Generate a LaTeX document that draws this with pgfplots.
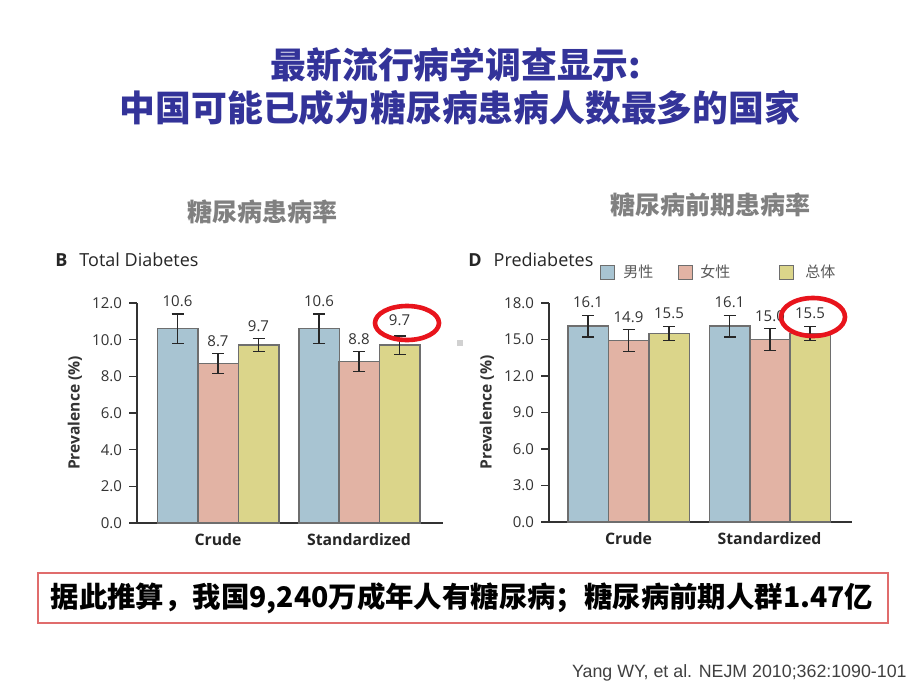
\documentclass[border=0pt]{standalone}
\usepackage{pgfplots}
\pgfplotsset{compat=1.18}
\usepackage{fontspec}
\setmainfont{Open Sans}
\newfontfamily\cjk{Noto Sans CJK SC}
\newfontfamily\citefont{Liberation Sans}
\definecolor{titleblue}{HTML}{333399}
\definecolor{cblue}{HTML}{A8C4D2}
\definecolor{cpink}{HTML}{E2B3A4}
\definecolor{cyel}{HTML}{DBD58A}
\definecolor{edge}{HTML}{6E6E6E}
\definecolor{boxred}{HTML}{E06C6C}
\definecolor{ellred}{HTML}{E8141C}
\definecolor{tickgray}{HTML}{333333}
\pgfplotsset{
  panel/.style={
    scale only axis, clip=false,
    axis lines=left, axis line style={-, draw=tickgray, line width=0.6pt},
    ymin=0, tick align=outside, major tick length=4pt,
    ytick style={draw=tickgray, line width=0.6pt},
    xtick style={draw=none},
    /pgf/number format/fixed, /pgf/number format/fixed zerofill,
    /pgf/number format/precision=1, /pgf/number format/assume math mode=true,
    yticklabel style={font=\fontsize{7.5}{9}\selectfont, text=tickgray},
    xticklabel style={font=\bfseries\fontsize{7.9}{10}\selectfont, text=black!85, yshift=2.5pt},
    ylabel style={at={(axis description cs:0,0.5)}, anchor=center, rotate=0, yshift=31pt,
      font=\bfseries\fontsize{7.8}{10}\selectfont, text=tickgray},
    ylabel={Prevalence (\%)},
  },
  bars/.style={ybar, bar width=40.5, bar shift=0pt, fill=#1, draw=edge, line width=0.75pt,
    error bars/.cd, y dir=both, y explicit,
    error bar style={line width=0.6pt, draw=black!85},
    error mark options={rotate=90, mark size=3pt, line width=0.6pt, draw=black!85}},
  vals/.style={draw=none, mark=none, nodes near coords, point meta=explicit symbolic,
    nodes near coords style={font=\fontsize{7.5}{9}\selectfont, text=tickgray, anchor=south}},
}
\begin{document}
\begin{tikzpicture}
\begin{scope}[x=0.5pt,y=-0.5pt]
\fill[white] (0,0) rectangle (920,690);
\node[text=titleblue, font=\cjk\bfseries\fontsize{17.9}{20}\selectfont] at (456,65) {最新流行病学调查显示:};
\node[text=titleblue, font=\cjk\bfseries\fontsize{17.9}{20}\selectfont] at (460,108) {中国可能已成为糖尿病患病人数最多的国家};
\node[text=black!50, font=\cjk\bfseries\fontsize{12.5}{14}\selectfont] at (262,212) {糖尿病患病率};
\node[text=black!50, font=\cjk\bfseries\fontsize{12.5}{14}\selectfont] at (710,205) {糖尿病前期患病率};
\node[anchor=west, inner sep=0, font=\fontsize{9}{10}\selectfont, text=black!85] at (55,260) {\textbf{B}\hspace{6pt}Total Diabetes};
\node[anchor=west, inner sep=0, font=\fontsize{9}{10}\selectfont, text=black!85] at (468,260) {\textbf{D}\hspace{6pt}Prediabetes};
% legend
\draw[edge, line width=0.5pt, fill=cblue] (600,265) rectangle (614,279);
\node[anchor=west, inner sep=0, font=\cjk\fontsize{7.5}{8}\selectfont, text=black!65] at (623,272) {男性};
\draw[edge, line width=0.5pt, fill=cpink] (678,265) rectangle (692,279);
\node[anchor=west, inner sep=0, font=\cjk\fontsize{7.5}{8}\selectfont, text=black!65] at (700,272) {女性};
\draw[edge, line width=0.5pt, fill=cyel] (779,265) rectangle (793,279);
\node[anchor=west, inner sep=0, font=\cjk\fontsize{7.5}{8}\selectfont, text=black!65] at (805,272) {总体};
\fill[black!18] (457,340) rectangle (463,346);
% bottom box
\draw[boxred, line width=1pt] (38,573) rectangle (888,623);
\node[font=\cjk\bfseries\fontsize{14.2}{16}\selectfont] at (462,598) {据此推算，我国9,240万成年人有糖尿病；糖尿病前期人群1.47亿};
\node[anchor=east, inner sep=0, font=\citefont\fontsize{8.9}{10}\selectfont, text=black!75] at (907,673) {Yang WY, et al. NEJM 2010;362:1090-101};
\end{scope}

\begin{axis}[panel, at={(68.5pt,-261.5pt)}, anchor=south west,
  width=153pt, height=110pt, xmin=137, xmax=443, ymax=12,
  ytick={0,2,...,12}, xtick={218,359}, xticklabels={Crude,Standardized}]
\addplot[bars=cblue] coordinates {(177.5,10.6) +- (0,0.8) (319,10.6) +- (0,0.8)};
\addplot[bars=cpink] coordinates {(218,8.7) +- (0,0.55) (359,8.8) +- (0,0.55)};
\addplot[bars=cyel] coordinates {(258.5,9.7) +- (0,0.35) (399.5,9.7) +- (0,0.5)};
\addplot[vals] coordinates {(177.5,11.4)[10.6] (319,11.4)[10.6] (218,9.25)[8.7] (359,9.35)[8.8] (258.5,10.05)[9.7] (399.5,10.4)[9.7]};
\end{axis}

\begin{axis}[panel, at={(274.5pt,-261pt)}, anchor=south west,
  width=151.5pt, height=109.5pt, xmin=549, xmax=852, ymax=18,
  ytick={0,3,...,18}, xtick={628.5,769.5}, xticklabels={Crude,Standardized}]
\addplot[bars=cblue] coordinates {(588,16.1) +- (0,0.9) (729.5,16.1) +- (0,0.9)};
\addplot[bars=cpink] coordinates {(628.5,14.9) +- (0,0.9) (770,15.0) +- (0,0.9)};
\addplot[bars=cyel] coordinates {(669,15.5) +- (0,0.6) (810,15.5) +- (0,0.6)};
\addplot[vals] coordinates {(588,17.0)[16.1] (729.5,17.0)[16.1] (628.5,15.8)[14.9] (770,15.9)[15.0] (669,16.1)[15.5] (810,16.1)[15.5]};
\end{axis}

\begin{scope}[x=0.5pt,y=-0.5pt]
\draw[ellred, line width=2.3pt] (407,323) ellipse [x radius=32, y radius=17];
\draw[ellred, line width=2.3pt] (813,317) ellipse [x radius=32, y radius=19];
\end{scope}
\end{tikzpicture}
\end{document}
